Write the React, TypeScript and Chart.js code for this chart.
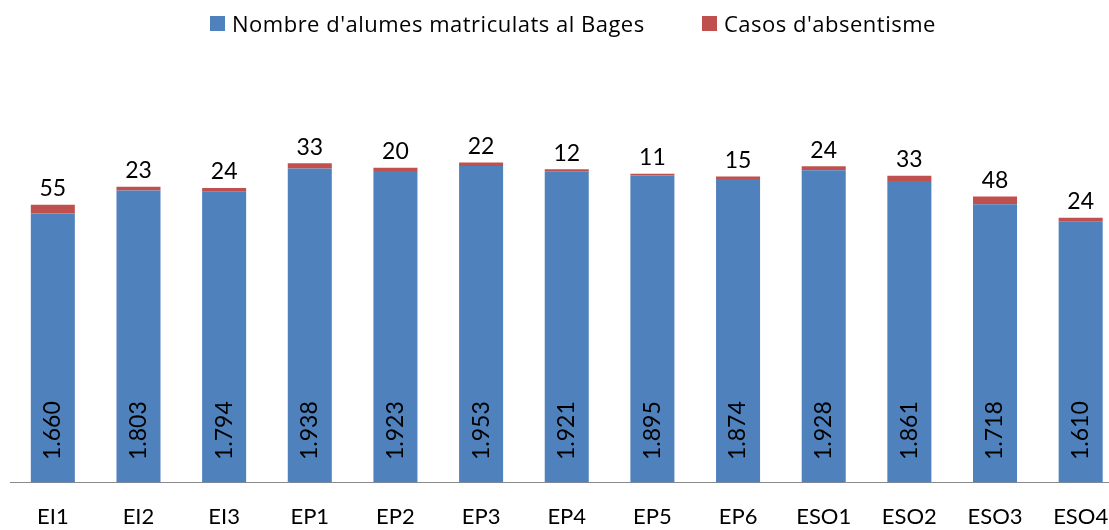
import React, { useEffect, useRef } from "react";
import { Chart, registerables } from "chart.js";

Chart.register(...registerables);

const categories = ["EI1", "EI2", "EI3", "EP1", "EP2", "EP3", "EP4", "EP5", "EP6", "ESO1", "ESO2", "ESO3", "ESO4"];
const enrolled = [1660, 1803, 1794, 1938, 1923, 1953, 1921, 1895, 1874, 1928, 1861, 1718, 1610];
const absenteeism = [55, 23, 24, 33, 20, 22, 12, 11, 15, 24, 33, 48, 24];
const seriesNames = ["Nombre d'alumes matriculats al Bages", "Casos d'absentisme"];
const seriesColors = ["#4F81BD", "#C0504D"];
const yMax = 2500;

const FONT = "Lato, 'Open Sans', sans-serif";
const LEGEND_FONT = "'Open Sans', Lato, sans-serif";

function fmt(v: number): string {
  const s = String(Math.round(v));
  return s.length > 3 ? s.slice(0, -3) + "." + s.slice(-3) : s;
}

const barLabels = {
  id: "barLabels",
  afterDatasetsDraw(chart: any) {
    const ctx = chart.ctx;
    const m0 = chart.getDatasetMeta(0);
    const m1 = chart.getDatasetMeta(1);
    ctx.save();
    ctx.fillStyle = "#000";
    ctx.font = `23px ${FONT}`;
    m0.data.forEach((bar: any, i: number) => {
      ctx.save();
      ctx.translate(bar.x, bar.base - 22.5);
      ctx.rotate(-Math.PI / 2);
      ctx.textAlign = "left";
      ctx.textBaseline = "middle";
      ctx.fillText(fmt(enrolled[i]), 0, 0);
      ctx.restore();
    });
    m1.data.forEach((bar: any, i: number) => {
      ctx.textAlign = "center";
      ctx.textBaseline = "alphabetic";
      ctx.fillText(fmt(absenteeism[i]), bar.x, bar.y - 8.5);
    });
    ctx.restore();
  },
};

export default function App() {
  const ref = useRef<HTMLCanvasElement | null>(null);

  useEffect(() => {
    if (!ref.current) return;
    Chart.defaults.font.family = FONT;
    const chart = new Chart(ref.current, {
      type: "bar",
      data: {
        labels: categories,
        datasets: [
          {
            label: seriesNames[0],
            data: enrolled,
            backgroundColor: seriesColors[0],
            borderWidth: 0,
            categoryPercentage: 1,
            barPercentage: 0.514,
          },
          {
            label: seriesNames[1],
            data: absenteeism,
            backgroundColor: seriesColors[1],
            borderWidth: 0,
            categoryPercentage: 1,
            barPercentage: 0.514,
          },
        ],
      },
      options: {
        responsive: false,
        animation: false,
        layout: { padding: { left: 10, right: 6.5, top: 77.5, bottom: 0 } },
        plugins: {
          legend: { display: false },
          tooltip: { enabled: false },
        },
        scales: {
          x: {
            stacked: true,
            offset: true,
            grid: { display: false, drawTicks: false },
            border: { display: true, color: "#8a8a8a", width: 1 },
            ticks: { color: "#000", font: { size: 22, family: FONT }, padding: 21 },
            afterFit: (scale: any) => {
              scale.height = 47.5;
            },
          },
          y: {
            stacked: true,
            display: false,
            min: 0,
            max: yMax,
          },
        },
      },
      plugins: [barLabels],
    });
    return () => chart.destroy();
  }, []);

  const legendItem = (i: number, left: number) => (
    <div
      key={i}
      style={{
        position: "absolute",
        left,
        top: 16,
        height: 15,
        display: "flex",
        alignItems: "center",
        whiteSpace: "nowrap",
      }}
    >
      <span style={{ display: "inline-block", width: 15, height: 15, background: seriesColors[i], marginRight: 7 }} />
      <span style={{ fontFamily: LEGEND_FONT, fontSize: 22, letterSpacing: "0.5px", color: "#000", lineHeight: "15px" }}>
        {seriesNames[i]}
      </span>
    </div>
  );

  return (
    <div style={{ position: "fixed", left: 0, top: 0, width: 1109, height: 530, overflow: "hidden", background: "#fff" }}>
      <canvas ref={ref} width={1130} height={530} style={{ position: "absolute", left: 0, top: 0, width: 1130, height: 530 }} />
      {legendItem(0, 210)}
      {legendItem(1, 702)}
    </div>
  );
}
